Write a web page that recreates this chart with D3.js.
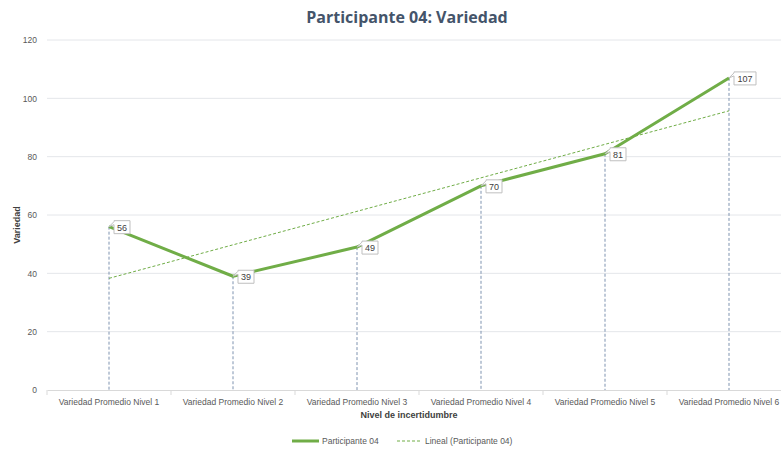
<!DOCTYPE html>
<html>
<head>
<meta charset="utf-8">
<script src="https://cdn.jsdelivr.net/npm/d3@7"></script>
<style>
  body { margin: 0; background: #fff; font-family: Calibri, "Liberation Sans", "DejaVu Sans", sans-serif; }
  svg text { font-family: "Liberation Sans Narrow", "Liberation Sans", sans-serif; }
</style>
</head>
<body>
<div id="chart"></div>
<script>
// Data
var categories = ["Variedad Promedio Nivel 1", "Variedad Promedio Nivel 2", "Variedad Promedio Nivel 3",
                  "Variedad Promedio Nivel 4", "Variedad Promedio Nivel 5", "Variedad Promedio Nivel 6"];
var values = [56, 39, 49, 70, 81, 107];
var yTicks = [0, 20, 40, 60, 80, 100, 120];
var seriesName = "Participante 04";
var trendName = "Lineal (Participante 04)";

var svgWidth = 781;
var svgHeight = 455;
var margin = { top: 40, right: -10, bottom: 65, left: 47 };
var width = svgWidth - margin.left - margin.right;
var height = svgHeight - margin.top - margin.bottom;

var green = "#70ad47";
var grey = "#595959";

var svg = d3.select("#chart")
    .append("svg")
    .attr("width", svgWidth)
    .attr("height", svgHeight);

var chartGroup = svg.append("g")
    .attr("transform", `translate(${margin.left}, ${margin.top})`);

// Scales
var xScale = d3.scaleBand()
    .domain(categories)
    .range([0, width]);

var yScale = d3.scaleLinear()
    .domain([0, 120])
    .range([height, 0]);

var cx = d => xScale(d) + xScale.bandwidth() / 2;

// Gridlines
chartGroup.append("g")
    .selectAll("line")
    .data(yTicks.filter(t => t > 0))
    .enter()
    .append("line")
    .attr("x1", 0)
    .attr("x2", width)
    .attr("y1", d => yScale(d))
    .attr("y2", d => yScale(d))
    .attr("stroke", "#e4e6ea")
    .attr("stroke-width", 1);

// Y axis labels
var leftAxis = d3.axisLeft(yScale).tickValues(yTicks).tickSize(0).tickPadding(10);
var yAxisG = chartGroup.append("g").call(leftAxis);
yAxisG.select(".domain").remove();
yAxisG.selectAll("text")
    .attr("fill", grey)
    .attr("font-size", "8.5px");

// X axis
var bottomAxis = d3.axisBottom(xScale).tickSize(0).tickPadding(9);
var xAxisG = chartGroup.append("g")
    .attr("transform", `translate(0, ${height})`)
    .call(bottomAxis);
xAxisG.select(".domain").attr("stroke", "#d9d9d9");
xAxisG.selectAll("text")
    .attr("fill", grey)
    .attr("font-size", "8.5px");

// Category separator ticks
chartGroup.append("g")
    .selectAll("line")
    .data(d3.range(categories.length + 1))
    .enter()
    .append("line")
    .attr("x1", i => i * xScale.bandwidth())
    .attr("x2", i => i * xScale.bandwidth())
    .attr("y1", height)
    .attr("y2", height + 5)
    .attr("stroke", "#d9d9d9");

// Drop lines
chartGroup.append("g")
    .selectAll("line")
    .data(values)
    .enter()
    .append("line")
    .attr("x1", (d, i) => cx(categories[i]))
    .attr("x2", (d, i) => cx(categories[i]))
    .attr("y1", d => yScale(d))
    .attr("y2", height)
    .attr("stroke", "#7f93b0")
    .attr("stroke-width", 1)
    .attr("stroke-dasharray", "3,2");

// Linear trend (least squares, as Excel does)
var xs = d3.range(1, values.length + 1);
var mx = d3.mean(xs), my = d3.mean(values);
var slope = d3.sum(xs, (x, i) => (x - mx) * (values[i] - my)) / d3.sum(xs, x => (x - mx) * (x - mx));
var intercept = my - slope * mx;
var trend = xs.map(x => intercept + slope * x);

var line = d3.line()
    .x((d, i) => cx(categories[i]))
    .y(d => yScale(d));

chartGroup.append("path")
    .datum(trend)
    .attr("d", line)
    .attr("fill", "none")
    .attr("stroke", green)
    .attr("stroke-width", 1)
    .attr("stroke-dasharray", "3,2");

chartGroup.append("path")
    .datum(values)
    .attr("d", line)
    .attr("fill", "none")
    .attr("stroke", green)
    .attr("stroke-width", 3)
    .attr("stroke-linejoin", "round");

// Data labels with callout
var labels = chartGroup.append("g")
    .selectAll("g")
    .data(values)
    .enter()
    .append("g")
    .attr("transform", (d, i) => `translate(${cx(categories[i])}, ${yScale(d)})`);

labels.append("path")
    .attr("d", d => {
        var w = String(d).length > 2 ? 22 : 16;
        var x0 = 5, y0 = -6, h = 13;
        return `M${x0},${y0} L${x0 + w},${y0} L${x0 + w},${y0 + h} L${x0},${y0 + h} L${x0},${y0 + 4} L0,0 L${x0},${y0 + 1} Z`;
    })
    .attr("fill", "#fff")
    .attr("stroke", "#bfbfbf")
    .attr("stroke-width", 1);

labels.append("text")
    .attr("x", d => 5 + (String(d).length > 2 ? 11 : 8))
    .attr("y", 4)
    .attr("text-anchor", "middle")
    .attr("fill", "#404040")
    .attr("font-size", "9px")
    .text(d => d);

// Title
svg.append("text")
    .attr("x", 407)
    .attr("y", 23)
    .attr("text-anchor", "middle")
    .attr("fill", "#44546a")
    .attr("font-size", "16px")
    .attr("font-weight", "bold")
    .style("font-family", "'Open Sans', 'Liberation Sans', sans-serif")
    .text("Participante 04: Variedad");

// Axis titles
svg.append("text")
    .attr("transform", "rotate(-90)")
    .attr("x", -225)
    .attr("y", 20)
    .attr("text-anchor", "middle")
    .attr("fill", "#404040")
    .attr("font-size", "9px")
    .attr("font-weight", "bold")
    .text("Variedad");

svg.append("text")
    .attr("x", 409)
    .attr("y", 418)
    .attr("text-anchor", "middle")
    .attr("fill", "#404040")
    .attr("font-size", "9px")
    .attr("font-weight", "bold")
    .text("Nivel de incertidumbre");

// Legend
var legend = svg.append("g").attr("transform", "translate(292, 441)");
legend.append("line")
    .attr("x1", 0).attr("x2", 27).attr("y1", 0).attr("y2", 0)
    .attr("stroke", green).attr("stroke-width", 3);
legend.append("text")
    .attr("x", 30).attr("y", 3)
    .attr("fill", grey).attr("font-size", "8.5px")
    .text(seriesName);
legend.append("line")
    .attr("x1", 105).attr("x2", 130).attr("y1", 0).attr("y2", 0)
    .attr("stroke", green).attr("stroke-width", 1).attr("stroke-dasharray", "3,2");
legend.append("text")
    .attr("x", 133).attr("y", 3)
    .attr("fill", grey).attr("font-size", "8.5px")
    .text(trendName);
</script>
</body>
</html>
